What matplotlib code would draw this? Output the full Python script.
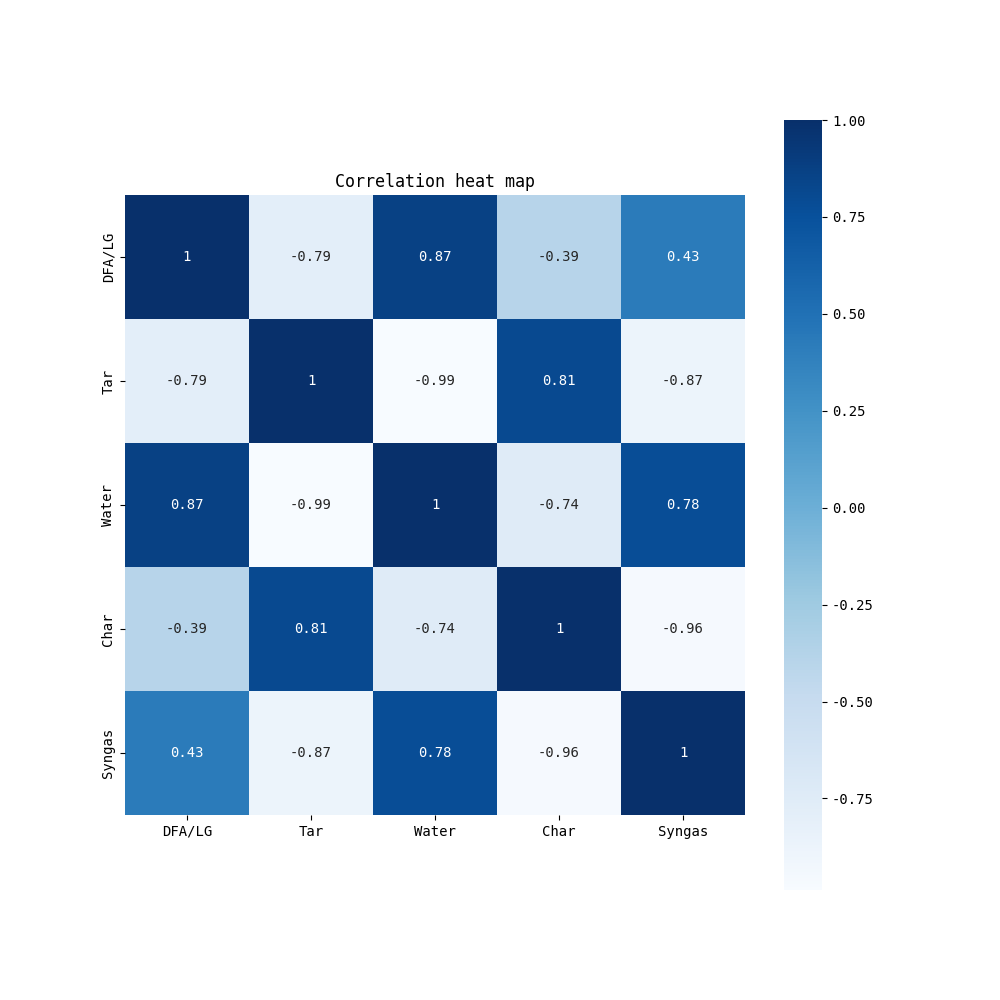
import matplotlib
matplotlib.use("Agg")
import matplotlib.pyplot as plt
import seaborn as sns
import numpy as np
import pandas as pd

plt.rcParams['font.family'] = ['DejaVu Sans Mono']
plt.rcParams['axes.unicode_minus'] = False

labels = ["DFA/LG", "Tar", "Water", "Char", "Syngas"]
dfa = [1.0, -0.79, 0.87, -0.39, 0.43]
tar = [-0.79, 1.0, -0.986, 0.81, -0.87]
water = [0.87, -0.986, 1.0, -0.74, 0.78]
char = [-0.39, 0.81, -0.74, 1.0, -0.96]
syngas = [0.43, -0.87, 0.78, -0.96, 1.0]

corr = pd.DataFrame([dfa, tar, water, char, syngas], index=labels, columns=labels)

fig = plt.figure(figsize=(10, 10))
ax = sns.heatmap(corr, annot=True, square=True, cmap="Blues")
ax.set_title("Correlation heat map")
fig.savefig("out.png", dpi=100)
